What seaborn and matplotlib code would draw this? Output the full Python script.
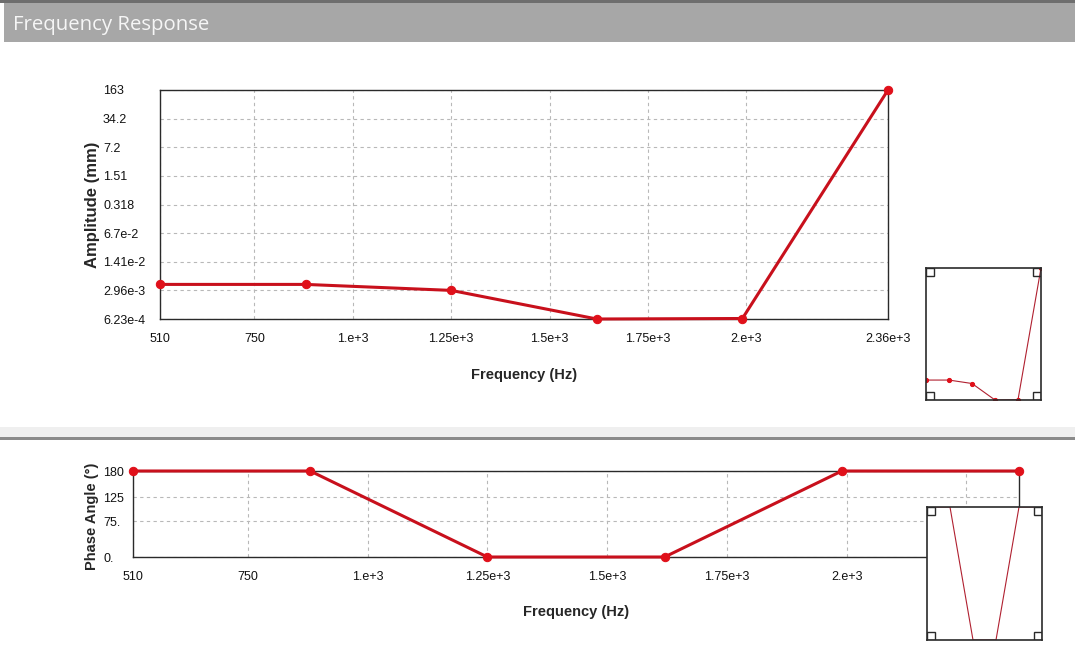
import numpy as np
import pandas as pd
import matplotlib
matplotlib.use("Agg")
import matplotlib.pyplot as plt
from matplotlib.patches import Rectangle
from matplotlib.ticker import NullLocator
import seaborn as sns

# Frequency sweep results
freq_hz = [510, 880, 1250, 1620, 1990, 2360]
amplitude_mm = [4.1e-3, 4.1e-3, 2.96e-3, 6.23e-4, 6.4e-4, 163]
phase_deg = [180, 180, 0, 0, 180, 180]

# Axis tick values and labels
amp_xticks = [510, 750, 1000, 1250, 1500, 1750, 2000, 2360]
amp_xlabels = ["510", "750", "1.e+3", "1.25e+3", "1.5e+3", "1.75e+3", "2.e+3", "2.36e+3"]
amp_yticks = [6.23e-4, 2.96e-3, 1.41e-2, 6.7e-2, 0.318, 1.51, 7.2, 34.2, 163]
amp_ylabels = ["6.23e-4", "2.96e-3", "1.41e-2", "6.7e-2", "0.318", "1.51", "7.2", "34.2", "163"]
ph_xticks = [510, 750, 1000, 1250, 1500, 1750, 2000, 2250]
ph_xlabels = ["510", "750", "1.e+3", "1.25e+3", "1.5e+3", "1.75e+3", "2.e+3", "2.25e+3"]
ph_yticks = [0, 75, 125, 180]
ph_ylabels = ["0.", "75.", "125", "180"]

sns.set_style("white")
plt.rcParams["font.family"] = ["Liberation Sans", "DejaVu Sans"]

amp_df = pd.DataFrame({"Frequency": freq_hz, "Amplitude": amplitude_mm})
ph_df = pd.DataFrame({"Frequency": freq_hz, "Phase": phase_deg})

LINE = "#c8101c"
MARK = "#e0101a"
GRID = "#b8b8b8"
SPINE = "#2a2a2a"
PX2PT = 72 / 100

fig = plt.figure(figsize=(10.75, 6.45), dpi=100)
fig.patch.set_facecolor("white")

# Panel header bar
fig.patches.append(Rectangle((0, 1 - 3 / 645), 1, 3 / 645, transform=fig.transFigure,
                             facecolor="#6e6e6e", edgecolor="none", zorder=0))
fig.patches.append(Rectangle((4 / 1075, 1 - 42 / 645), 1, 39 / 645, transform=fig.transFigure,
                             facecolor="#a7a7a7", edgecolor="none", zorder=0))
fig.text(13 / 1075, 1 - 25 / 645, "Frequency Response", color="#f6f6f6",
         fontsize=14.7, ha="left", va="center", family=["Open Sans", "DejaVu Sans"])

# Separator between the two panels
fig.patches.append(Rectangle((0, 1 - 437 / 645), 1, 10 / 645, transform=fig.transFigure,
                             facecolor="#efefef", edgecolor="none", zorder=0))
fig.patches.append(Rectangle((0, 1 - 439.5 / 645), 1, 2.5 / 645, transform=fig.transFigure,
                             facecolor="#8a8a8a", edgecolor="none", zorder=0))


def style_axes(ax, ylabel_left_px):
    for s in ax.spines.values():
        s.set_color(SPINE)
        s.set_linewidth(1.0)
    ax.grid(True, color=GRID, linestyle=(0, (3, 3)), linewidth=0.8)
    ax.tick_params(direction="out", length=7, width=0.8, color="#a0a0a0",
                   labelsize=9, labelcolor="#111111")
    ax.tick_params(axis="x", pad=3)
    # y tick labels are left-aligned in a column to the left of the axis
    ax.tick_params(axis="y", pad=ylabel_left_px * PX2PT - 7)
    for lab in ax.get_yticklabels():
        lab.set_horizontalalignment("left")


# Amplitude panel
ax1 = fig.add_axes([160 / 1075, 1 - 319 / 645, 728 / 1075, 229 / 645])
sns.lineplot(data=amp_df, x="Frequency", y="Amplitude", ax=ax1, color=LINE, linewidth=2.2,
             marker="o", markersize=6, markerfacecolor=MARK, markeredgecolor=MARK, clip_on=False, zorder=5)
ax1.set_yscale("log")
ax1.set_xlim(510, 2360)
ax1.set_ylim(6.23e-4, 163)
ax1.set_xticks(amp_xticks, amp_xlabels)
ax1.set_yticks(amp_yticks, amp_ylabels)
ax1.yaxis.set_minor_locator(NullLocator())
style_axes(ax1, 160 - 103)
ax1.set_xlabel("Frequency (Hz)", fontsize=10.5, fontweight="bold")
ax1.set_ylabel("Amplitude (mm)", fontsize=12, fontweight="bold")
ax1.xaxis.set_label_coords(0.5, -0.215)
ax1.yaxis.set_label_coords((100 - 160) / 728, 0.5)

# Phase panel
ax2 = fig.add_axes([133 / 1075, 1 - 557 / 645, 886 / 1075, 86 / 645])
sns.lineplot(data=ph_df, x="Frequency", y="Phase", ax=ax2, color=LINE, linewidth=2.2,
             marker="o", markersize=6, markerfacecolor=MARK, markeredgecolor=MARK, clip_on=False, zorder=5)
ax2.set_xlim(510, 2360)
ax2.set_ylim(0, 180)
ax2.set_xticks(ph_xticks, ph_xlabels)
ax2.set_yticks(ph_yticks, ph_ylabels)
style_axes(ax2, 133 - 103)
ax2.set_xlabel("Frequency (Hz)", fontsize=10.5, fontweight="bold")
ax2.set_ylabel("Phase Angle (°)", fontsize=10.5, fontweight="bold")
ax2.xaxis.set_label_coords(0.5, -0.56)
ax2.yaxis.set_label_coords((99 - 133) / 886, 0.47)


def overview(rect, df, ycol, log, ylim, markers):
    ax = fig.add_axes(rect)
    ax.set_facecolor("white")
    kw = dict(marker="o", markersize=3, markerfacecolor=MARK, markeredgecolor=MARK) if markers else {}
    sns.lineplot(data=df, x="Frequency", y=ycol, ax=ax, color="#b02030", linewidth=0.8, **kw)
    if log:
        ax.set_yscale("log")
    ax.set_xlim(510, 2360)
    ax.set_ylim(*ylim)
    ax.set_xticks([])
    ax.set_yticks([])
    ax.yaxis.set_minor_locator(NullLocator())
    ax.set_xlabel("")
    ax.set_ylabel("")
    for s in ax.spines.values():
        s.set_color(SPINE)
        s.set_linewidth(1.2)
    # corner handles
    w, h = 8 / 115, 8 / 132
    for cx, cy in [(0, 0), (1 - w, 0), (0, 1 - h), (1 - w, 1 - h)]:
        ax.add_patch(Rectangle((cx, cy), w, h, transform=ax.transAxes, fill=False,
                               edgecolor=SPINE, linewidth=1.0, zorder=6))
    return ax


overview([926 / 1075, 1 - 400 / 645, 115 / 1075, 132 / 645], amp_df, "Amplitude", True,
         (6.23e-4, 163), True)
overview([927 / 1075, 1 - 640 / 645, 115 / 1075, 133 / 645], ph_df, "Phase", False,
         (0, 180), False)

fig.savefig("out.png", dpi=100, facecolor="white")
